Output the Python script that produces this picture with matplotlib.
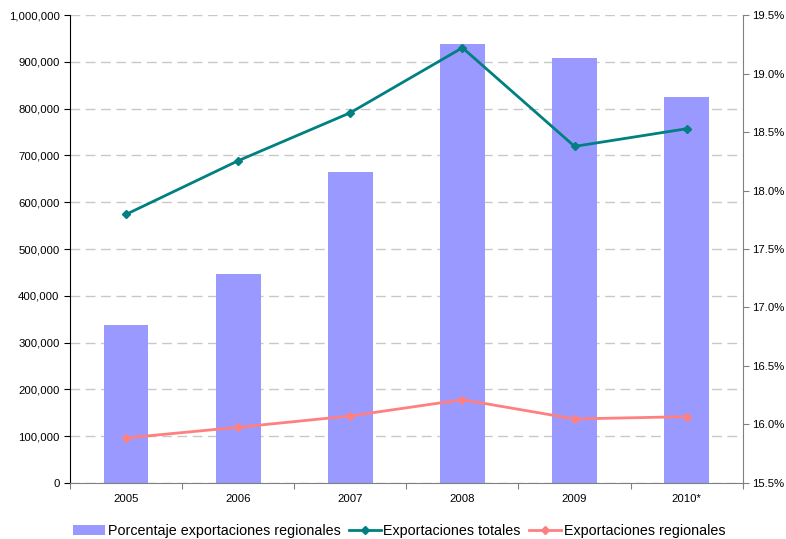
#!/usr/bin/env python3
import matplotlib
matplotlib.use('Agg')
import matplotlib.pyplot as plt
import matplotlib.ticker as mticker

plt.rcParams['font.family'] = ['Liberation Sans', 'DejaVu Sans']

years = ['2005', '2006', '2007', '2008', '2009', '2010*']
porcentaje = [16.85, 17.29, 18.16, 19.25, 19.13, 18.80]          # % (right axis)
totales = [574000, 688700, 791300, 930200, 719400, 757100]        # left axis
regionales = [96200, 119000, 143200, 178000, 136800, 141700]      # left axis

x = list(range(len(years)))

fig = plt.figure(figsize=(7.86, 5.39), dpi=100)
ax = fig.add_axes([0.089, 0.104, 0.856, 0.868])

# bars on their own twin axis (right scale)
axb = ax.twinx()
# lines on another twin (left scale), drawn on top
axl = ax.twinx()

ax.set_zorder(0)
axb.set_zorder(1)
axl.set_zorder(2)
axb.patch.set_visible(False)
axl.patch.set_visible(False)

# left axis: ticks and grid
ax.set_ylim(0, 1000000)
ax.set_yticks(range(0, 1000001, 100000))
ax.yaxis.set_major_formatter(mticker.FuncFormatter(lambda v, p: '{:,.0f}'.format(v)))
ax.grid(axis='y', color='#C8C8C8', linestyle=(0, (7, 4)), linewidth=1)
ax.tick_params(axis='y', labelsize=8.2, length=4, direction='out', colors='black')
for s in ['top', 'right', 'bottom']:
    ax.spines[s].set_visible(False)
ax.spines['left'].set_color('black')

# x axis
ax.set_xlim(-0.5, len(years) - 0.5)
ax.set_xticks([i - 0.5 for i in range(len(years) + 1)])
ax.set_xticklabels([])
ax.set_xticks(x, minor=True)
ax.set_xticklabels(years, minor=True)
ax.tick_params(axis='x', which='major', length=4, color='#808080')
ax.tick_params(axis='x', which='minor', length=0, labelsize=8.2, pad=8)

# bars
axb.bar(x, porcentaje, width=0.4, color='#9999FF', label='Porcentaje exportaciones regionales')
axb.set_ylim(15.5, 19.5)
axb.set_yticks([15.5 + 0.5 * i for i in range(9)])
axb.yaxis.set_major_formatter(mticker.FuncFormatter(lambda v, p: '{:.1f}%'.format(v)))
axb.tick_params(axis='y', labelsize=8.2, length=4, direction='out', color='#808080', pad=3)
axb.spines['top'].set_visible(False)
axb.spines['left'].set_visible(False)
axb.spines['right'].set_color('#808080')
axb.spines['bottom'].set_color('#808080')
axb.set_xlim(ax.get_xlim())

# lines
axl.plot(x, totales, color='#008080', linewidth=2, marker='D', markersize=4,
         label='Exportaciones totales')
axl.plot(x, regionales, color='#FF8080', linewidth=2, marker='D', markersize=4,
         label='Exportaciones regionales')
axl.set_ylim(ax.get_ylim())
axl.set_xlim(ax.get_xlim())
axl.axis('off')

h1, l1 = axb.get_legend_handles_labels()
h2, l2 = axl.get_legend_handles_labels()
fig.legend(h1 + h2, l1 + l2, loc='lower center', ncol=3, frameon=False,
           fontsize=10.3, bbox_to_anchor=(0.508, -0.022), handlelength=2.2,
           columnspacing=0.6, handletextpad=0.2)

plt.savefig('out.png', dpi=100)
